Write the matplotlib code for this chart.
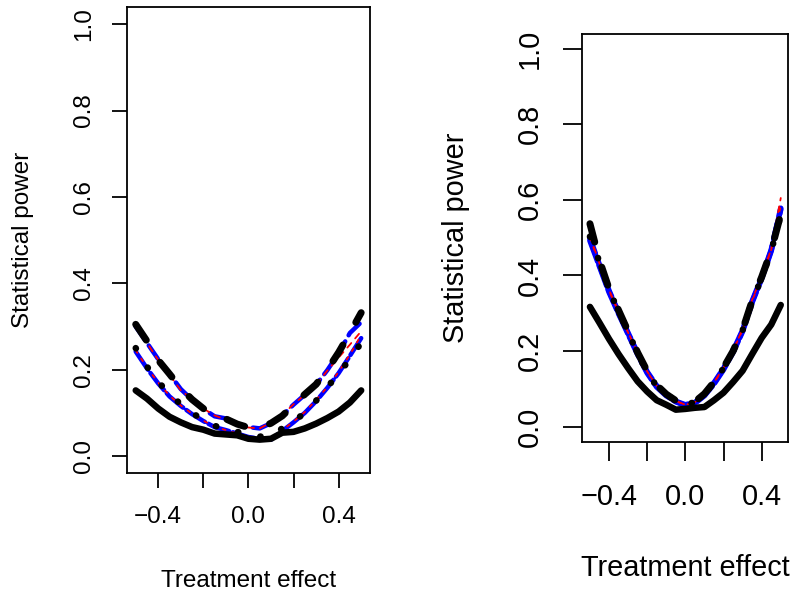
import matplotlib
matplotlib.use("Agg")
import matplotlib.pyplot as plt

plt.rcParams['font.family'] = ['Liberation Sans', 'DejaVu Sans']
plt.rcParams['lines.scale_dashes'] = False

# ---------------- data ----------------
effect = [-0.5, -0.45, -0.4, -0.35, -0.3, -0.25, -0.2, -0.15, -0.1, -0.05, 0.0,
          0.05, 0.1, 0.15, 0.2, 0.25, 0.3, 0.35, 0.4, 0.45, 0.5]

# left panel
L_black_solid = [0.152, 0.133, 0.110, 0.091, 0.078, 0.067, 0.061, 0.052, 0.050, 0.048, 0.040,
                 0.038, 0.040, 0.054, 0.056, 0.064, 0.075, 0.088, 0.103, 0.124, 0.152]
L_black_dash = [0.305, 0.266, 0.222, 0.190, 0.157, 0.131, 0.110, 0.093, 0.086, 0.074, 0.066,
                0.065, 0.076, 0.093, 0.118, 0.143, 0.166, 0.200, 0.240, 0.285, 0.332]
L_red_dash = [0.300, 0.262, 0.222, 0.188, 0.152, 0.132, 0.110, 0.094, 0.084, 0.072, 0.066,
              0.064, 0.078, 0.095, 0.120, 0.142, 0.165, 0.198, 0.228, 0.258, 0.289]
L_blue_dash = [0.300, 0.262, 0.224, 0.190, 0.155, 0.130, 0.109, 0.092, 0.087, 0.073, 0.067,
               0.064, 0.076, 0.094, 0.119, 0.142, 0.165, 0.199, 0.238, 0.285, 0.310]
L_black_dot = [0.250, 0.207, 0.172, 0.143, 0.120, 0.100, 0.083, 0.070, 0.062, 0.056, 0.050,
               0.045, 0.047, 0.064, 0.080, 0.100, 0.128, 0.160, 0.190, 0.225, 0.262]
L_red_dot = [0.245, 0.205, 0.170, 0.140, 0.117, 0.098, 0.082, 0.068, 0.060, 0.052, 0.045,
             0.040, 0.040, 0.060, 0.080, 0.102, 0.130, 0.160, 0.195, 0.235, 0.280]
L_blue_dot = [0.242, 0.203, 0.168, 0.138, 0.116, 0.097, 0.081, 0.067, 0.060, 0.052, 0.044,
              0.040, 0.038, 0.058, 0.078, 0.100, 0.127, 0.158, 0.192, 0.232, 0.273]

# right panel
R_black_solid = [0.317, 0.275, 0.232, 0.192, 0.155, 0.120, 0.093, 0.070, 0.058, 0.045, 0.047,
                 0.050, 0.052, 0.070, 0.090, 0.118, 0.148, 0.192, 0.235, 0.270, 0.322]
R_black_dash = [0.537, 0.440, 0.365, 0.308, 0.252, 0.196, 0.147, 0.110, 0.086, 0.069, 0.059,
                0.066, 0.087, 0.118, 0.156, 0.200, 0.256, 0.333, 0.396, 0.466, 0.562]
R_red_dash = [0.505, 0.432, 0.362, 0.305, 0.250, 0.196, 0.146, 0.108, 0.085, 0.068, 0.058,
              0.065, 0.085, 0.117, 0.156, 0.202, 0.258, 0.336, 0.398, 0.470, 0.605]
R_blue_dash = [0.498, 0.428, 0.360, 0.302, 0.248, 0.194, 0.145, 0.108, 0.084, 0.067, 0.058,
               0.064, 0.084, 0.116, 0.154, 0.200, 0.255, 0.332, 0.395, 0.468, 0.578]
R_black_dot = [0.503, 0.436, 0.362, 0.305, 0.250, 0.194, 0.144, 0.107, 0.085, 0.068, 0.058,
               0.065, 0.085, 0.117, 0.155, 0.200, 0.255, 0.331, 0.394, 0.465, 0.560]
R_red_dot = [0.500, 0.430, 0.360, 0.303, 0.249, 0.195, 0.145, 0.108, 0.084, 0.068, 0.058,
             0.064, 0.084, 0.116, 0.155, 0.201, 0.256, 0.333, 0.396, 0.468, 0.585]
R_blue_dot = [0.492, 0.424, 0.356, 0.299, 0.245, 0.191, 0.142, 0.105, 0.082, 0.066, 0.056,
              0.062, 0.082, 0.113, 0.151, 0.197, 0.252, 0.329, 0.392, 0.465, 0.575]

xticks = [-0.4, -0.2, 0.0, 0.2, 0.4]
xticklabels = ["\u22120.4", "", "0.0", "", "0.4"]
yticks = [0.0, 0.2, 0.4, 0.6, 0.8, 1.0]
yticklabels = ["0.0", "0.2", "0.4", "0.6", "0.8", "1.0"]
xlabel = "Treatment effect"
ylabel = "Statistical power"

PX = 0.72  # points per pixel at dpi=100

fig = plt.figure(figsize=(7.94, 5.94), dpi=100)

def draw_panel(ax, solid, bdash, rdash, bldash, bdot, rdot, bldot, blue_w):
    # blue lines (underneath)
    ax.plot(effect, bldot, color='#0000ff', lw=blue_w * PX, dashes=(22 * PX, 4 * PX),
            dash_capstyle='round', dash_joinstyle='round')
    ax.plot(effect, bldash, color='#0000ff', lw=blue_w * PX, dashes=(16 * PX, 7 * PX),
            dash_capstyle='round', dash_joinstyle='round')
    # red lines
    ax.plot(effect, rdot, color='#ff0000', lw=1.8 * PX, dashes=(3 * PX, 7 * PX),
            dash_capstyle='round')
    ax.plot(effect, rdash, color='#ff0000', lw=1.8 * PX, dashes=(6 * PX, 6 * PX),
            dash_capstyle='round')
    # black lines
    ax.plot(effect, solid, color='black', lw=6.5 * PX, solid_capstyle='round',
            solid_joinstyle='round')
    ax.plot(effect, bdash, color='black', lw=7 * PX, dashes=(19 * PX, 26 * PX),
            dash_capstyle='round', dash_joinstyle='round')
    ax.plot(effect, bdot, color='black', lw=6.5 * PX, dashes=(0.3, 22.8 * PX - 0.3),
            dash_capstyle='round')
    ax.set_xlim(-0.54, 0.54)
    ax.set_ylim(-0.04, 1.04)
    for s in ax.spines.values():
        s.set_linewidth(1.3)


def style_axes(ax, fs, ticklen, xpad, ypad, xl_y, yl_x):
    ax.set_xticks(xticks)
    ax.set_xticklabels(xticklabels)
    ax.set_yticks(yticks)
    ax.set_yticklabels(yticklabels, rotation=90, va='center')
    ax.tick_params(axis='both', direction='out', length=ticklen * PX, width=1.3,
                   labelsize=fs, colors='black')
    ax.tick_params(axis='x', pad=xpad)
    ax.tick_params(axis='y', pad=ypad)
    ax.set_xlabel(xlabel, fontsize=fs)
    ax.set_ylabel(ylabel, fontsize=fs)
    ax.xaxis.set_label_coords(0.5, xl_y)
    ax.yaxis.set_label_coords(yl_x, 0.5)
    ax.xaxis.label.set_va('center')
    ax.yaxis.label.set_va('center')


ax1 = fig.add_axes([126.7 / 794, 1 - 473.3 / 594, 243.5 / 794, 466.3 / 594])
draw_panel(ax1, L_black_solid, L_black_dash, L_red_dash, L_blue_dash,
           L_black_dot, L_red_dot, L_blue_dot, 4.5)
style_axes(ax1, 17.5, 15, 13, 12, -0.231, -0.427)

ax2 = fig.add_axes([582.3 / 794, 1 - 441.8 / 594, 206.1 / 794, 408.2 / 594])
draw_panel(ax2, R_black_solid, R_black_dash, R_red_dash, R_blue_dash,
           R_black_dot, R_red_dot, R_blue_dot, 5.5)
style_axes(ax2, 20.8, 19, 16, 14, -0.309, -0.613)

fig.savefig("out.png", dpi=100)
